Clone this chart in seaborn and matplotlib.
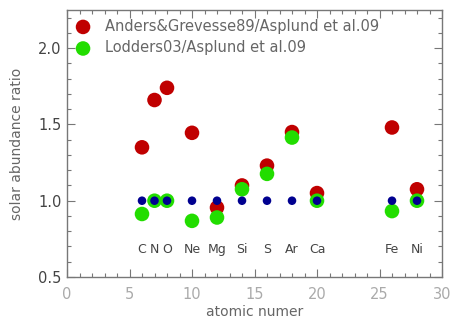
import numpy as np
import pandas as pd
import matplotlib
matplotlib.use("Agg")
import matplotlib.pyplot as plt
import seaborn as sns
from matplotlib.ticker import MultipleLocator

elements = ["C", "N", "O", "Ne", "Mg", "Si", "S", "Ar", "Ca", "Fe", "Ni"]
atomic_number = [6, 7, 8, 10, 12, 14, 16, 18, 20, 26, 28]
ag89_ratio = [1.35, 1.66, 1.74, 1.445, 0.955, 1.10, 1.23, 1.45, 1.05, 1.48, 1.075]
lodders03_ratio = [0.913, 1.0, 1.0, 0.868, 0.89, 1.075, 1.176, 1.414, 1.0, 0.932, 1.0]
asplund_ratio = [1.0] * 11
label_y = 0.68

sns.set_style("ticks")
plt.rcParams['font.family'] = ['DejaVu Sans']
gray = "#666666"

fig = plt.figure(figsize=(4.51, 3.22), dpi=100)
ax = fig.add_axes([67/451, 1 - 277/322, (442-67)/451, (277-10)/322])

df_ag = pd.DataFrame({"Z": atomic_number, "r": ag89_ratio})
df_lo = pd.DataFrame({"Z": atomic_number, "r": lodders03_ratio})
df_as = pd.DataFrame({"Z": atomic_number, "r": asplund_ratio})

sns.scatterplot(data=df_ag, x="Z", y="r", ax=ax, color="#c00000", s=110,
                edgecolor="none", label="Anders&Grevesse89/Asplund et al.09", zorder=3)
sns.scatterplot(data=df_lo, x="Z", y="r", ax=ax, color="#22dd00", s=110,
                edgecolor="none", label="Lodders03/Asplund et al.09", zorder=4)
sns.scatterplot(data=df_as, x="Z", y="r", ax=ax, color="#000090", s=38,
                edgecolor="none", legend=False, zorder=5)

for el, z in zip(elements, atomic_number):
    ax.text(z, label_y, el, ha="center", va="center", fontsize=9, color="#444444")

ax.set_xlim(0, 30)
ax.set_ylim(0.5, 2.25)
ax.xaxis.set_major_locator(MultipleLocator(5))
ax.xaxis.set_minor_locator(MultipleLocator(1))
ax.yaxis.set_major_locator(MultipleLocator(0.5))
ax.yaxis.set_minor_locator(MultipleLocator(0.1))
ax.yaxis.set_major_formatter(matplotlib.ticker.FormatStrFormatter("%.1f"))
ax.tick_params(which="both", direction="in", top=True, right=True, color="#777777",
               labelsize=10.5)
ax.tick_params(axis="x", which="both", labelcolor="#aaaaaa", pad=7)
ax.tick_params(axis="y", which="both", labelcolor="#444444", pad=4)
ax.tick_params(which="major", length=6, width=0.8)
ax.tick_params(which="minor", length=3, width=0.8)
for sp in ax.spines.values():
    sp.set_color("#777777")
    sp.set_linewidth(1.0)

ax.set_xlabel("atomic numer", color=gray, fontsize=10, labelpad=2)
ax.set_ylabel("solar abundance ratio", color=gray, fontsize=10, labelpad=10)

leg = ax.legend(loc="upper left", frameon=False, fontsize=10.5, labelcolor=gray,
                handletextpad=1.0, borderaxespad=0.1, borderpad=0.5,
                handlelength=1.0, labelspacing=0.45)

fig.savefig("out.png", dpi=100)
